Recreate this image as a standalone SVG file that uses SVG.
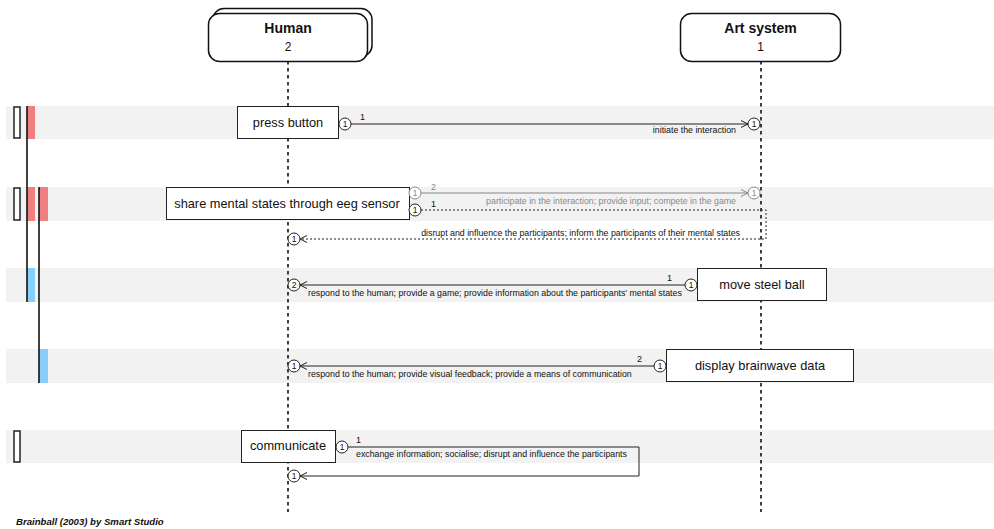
<svg xmlns="http://www.w3.org/2000/svg" width="994" height="529" viewBox="0 0 994 529">
  <style>
    text { font-family: "Liberation Sans", Arial, sans-serif; fill: #111; }
    .band { fill: #f2f2f2; }
    .hdr { fill: #fff; stroke: #111; stroke-width: 1.5; }
    .title { font-size: 14px; font-weight: bold; text-anchor: middle; }
    .idx { font-size: 12px; text-anchor: middle; }
    .life { stroke: #111; stroke-width: 1.6; stroke-dasharray: 3.5 3.5; fill: none; }
    .act { fill: #fff; stroke: #222; stroke-width: 1; }
    .actlbl { font-size: 12.8px; text-anchor: middle; }
    .msg { stroke: #222; stroke-width: 1; fill: none; }
    .gray { stroke: #888; }
    .dot { stroke-dasharray: 2 2; }
    .pin { fill: #fff; stroke: #222; stroke-width: 1; }
    .pin.g { stroke: #888; }
    .pint { font-size: 8.5px; text-anchor: middle; }
    .num { font-size: 9px; }
    .lbl { font-size: 8.8px; }
    .g2 { fill: #888; }
    .red { fill: #f08080; }
    .blue { fill: #87cefa; }
    .slot { fill: #fff; stroke: #222; stroke-width: 1.5; }
    .rail { stroke: #111; stroke-width: 1.6; }
  </style>
  <defs>
    <marker id="open" viewBox="0 0 8 8" refX="7.5" refY="4" markerWidth="8" markerHeight="8" markerUnits="userSpaceOnUse" orient="auto">
      <path d="M0.5,0.5 L7.5,4 L0.5,7.5" fill="none" stroke="#222" stroke-width="1"/>
    </marker>
    <marker id="openG" viewBox="0 0 8 8" refX="7.5" refY="4" markerWidth="8" markerHeight="8" markerUnits="userSpaceOnUse" orient="auto">
      <path d="M0.5,0.5 L7.5,4 L0.5,7.5" fill="none" stroke="#888" stroke-width="1"/>
    </marker>
  </defs>

  <!-- step bands -->
  <g id="bands">
    <rect class="band" x="6" y="106" width="988" height="33"/>
    <rect class="band" x="6" y="187" width="988" height="34"/>
    <rect class="band" x="6" y="268" width="988" height="34"/>
    <rect class="band" x="6" y="349" width="988" height="34"/>
    <rect class="band" x="6" y="430" width="988" height="33"/>
  </g>

  <!-- step markers on the left edge -->
  <g id="markers">
    <rect class="slot" x="14" y="107" width="6" height="31"/>
    <rect class="red" x="27" y="106" width="8" height="33"/>
    <rect class="slot" x="14" y="188" width="6" height="32"/>
    <rect class="red" x="27" y="187" width="8" height="34"/>
    <rect class="red" x="39" y="187" width="9" height="34"/>
    <rect class="blue" x="27" y="268" width="8" height="34"/>
    <rect class="blue" x="39" y="349" width="9" height="34"/>
    <rect class="slot" x="14" y="431" width="6" height="31"/>
    <line class="rail" x1="27" y1="106" x2="27" y2="302"/>
    <line class="rail" x1="39" y1="187" x2="39" y2="383"/>
  </g>

  <!-- lifelines -->
  <g id="lifelines">
    <line class="life" x1="288" y1="61" x2="288" y2="512"/>
    <line class="life" x1="761" y1="61" x2="761" y2="512"/>
  </g>

  <!-- participants -->
  <g id="human">
    <rect class="hdr" x="213" y="8.5" width="159" height="48" rx="11"/>
    <rect class="hdr" x="208.5" y="13.5" width="159" height="48" rx="11"/>
    <text class="title" x="288" y="33">Human</text>
    <text class="idx" x="288" y="51">2</text>
  </g>
  <g id="art-system">
    <rect class="hdr" x="680.5" y="13.5" width="160" height="48" rx="11"/>
    <text class="title" x="760.5" y="33">Art system</text>
    <text class="idx" x="760.5" y="51">1</text>
  </g>

  <!-- activities -->
  <g id="press-button">
    <rect class="act" x="237.5" y="106.5" width="101" height="32"/>
    <text class="actlbl" x="288" y="127">press button</text>
  </g>
  <g id="share-mental-states">
    <rect class="act" x="166.5" y="187.5" width="243" height="32"/>
    <text class="actlbl" x="287" y="208">share mental states through eeg sensor</text>
  </g>
  <g id="move-steel-ball">
    <rect class="act" x="697.5" y="268.5" width="129" height="32"/>
    <text class="actlbl" x="762" y="289">move steel ball</text>
  </g>
  <g id="display-brainwave-data">
    <rect class="act" x="666.5" y="349.5" width="187" height="32"/>
    <text class="actlbl" x="760" y="370">display brainwave data</text>
  </g>
  <g id="communicate">
    <rect class="act" x="241.5" y="430.5" width="94" height="32"/>
    <text class="actlbl" x="288" y="450">communicate</text>
  </g>

  <!-- connectors -->
  <g id="connectors">
    <!-- press button -> art system -->
    <line class="msg" x1="351" y1="124" x2="748" y2="124" marker-end="url(#open)"/>
    <circle class="pin" cx="345" cy="124" r="6"/>
    <text class="pint" x="345" y="127">1</text>
    <circle class="pin" cx="754" cy="124" r="6"/>
    <text class="pint" x="754" y="127">1</text>
    <text class="num" x="360" y="120">1</text>
    <text class="lbl" x="736" y="133" text-anchor="end">initiate the interaction</text>

    <!-- share mental states -> art system (gray) -->
    <line class="msg gray" x1="421" y1="193" x2="748" y2="193" marker-end="url(#openG)"/>
    <circle class="pin g" cx="415" cy="193" r="6"/>
    <text class="pint g2" x="415" y="196">1</text>
    <circle class="pin g" cx="754" cy="193" r="6"/>
    <text class="pint g2" x="754" y="196">1</text>
    <text class="num g2" x="431" y="190">2</text>
    <text class="lbl g2" x="736" y="204" text-anchor="end">participate in the interaction; provide input; compete in the game</text>

    <!-- share mental states -> human (dotted self loop) -->
    <path class="msg dot" d="M421,210 H766 V239 H300" marker-end="url(#open)"/>
    <circle class="pin" cx="415" cy="210" r="6"/>
    <text class="pint" x="415" y="213">1</text>
    <circle class="pin" cx="294" cy="239" r="6"/>
    <text class="pint" x="294" y="242">1</text>
    <text class="num" x="431" y="207">1</text>
    <text class="lbl" x="740" y="236" text-anchor="end">disrupt and influence the participants; inform the participants of their mental states</text>

    <!-- move steel ball -> human -->
    <line class="msg" x1="685" y1="285" x2="300" y2="285" marker-end="url(#open)"/>
    <circle class="pin" cx="691" cy="285" r="6"/>
    <text class="pint" x="691" y="288">1</text>
    <circle class="pin" cx="294" cy="285" r="6"/>
    <text class="pint" x="294" y="288">2</text>
    <text class="num" x="667" y="281">1</text>
    <text class="lbl" x="308" y="296">respond to the human; provide a game; provide information about the participants' mental states</text>

    <!-- display brainwave data -> human -->
    <line class="msg" x1="654" y1="366" x2="300" y2="366" marker-end="url(#open)"/>
    <circle class="pin" cx="660" cy="366" r="6"/>
    <text class="pint" x="660" y="369">1</text>
    <circle class="pin" cx="294" cy="366" r="6"/>
    <text class="pint" x="294" y="369">1</text>
    <text class="num" x="637" y="362">2</text>
    <text class="lbl" x="308" y="377">respond to the human; provide visual feedback; provide a means of communication</text>

    <!-- communicate -> human (self loop) -->
    <path class="msg" d="M348,447 H639 V476 H300" marker-end="url(#open)"/>
    <circle class="pin" cx="342" cy="447" r="6"/>
    <text class="pint" x="342" y="450">1</text>
    <circle class="pin" cx="294" cy="476" r="6"/>
    <text class="pint" x="294" y="479">1</text>
    <text class="num" x="356" y="443">1</text>
    <text class="lbl" x="356" y="457">exchange information; socialise; disrupt and influence the participants</text>
  </g>

  <text x="16" y="525" font-size="9.6" font-weight="bold" font-style="italic">Brainball (2003) by Smart Studio</text>
</svg>
